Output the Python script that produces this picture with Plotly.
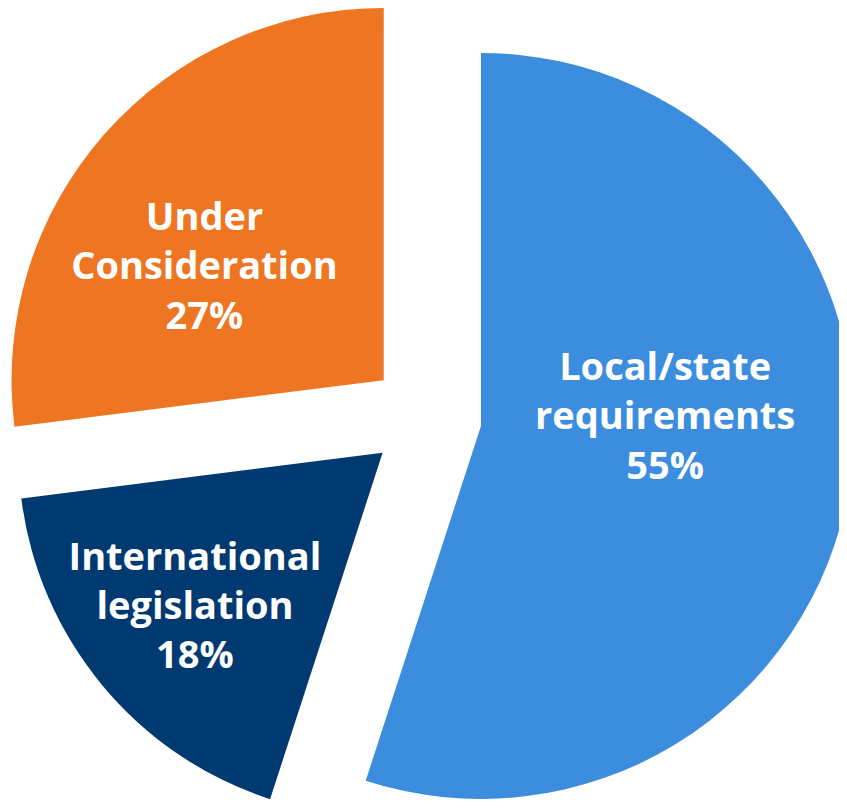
import math
import plotly.graph_objects as go

# ---- Data ----
categories = ["Local/state requirements", "International legislation", "Under Consideration"]
label_lines = [["Local/state", "requirements"], ["International", "legislation"], ["Under", "Consideration"]]
shares = [55, 18, 27]  # percent
slice_colors = ["#3C8DDE", "#003A70", "#EE7623"]

# ---- Layout / styling ----
W, H = 847, 809
pie_cx, pie_cy = 417.7, 409.2   # centre of the (un-exploded) pie, figure pixels
radius = 373                    # pie radius, pixels
pull = 0.15                     # explode distance as fraction of radius
font_size = 38
NB = "\u00a0"
# small text nudges (invisible padding) to mimic the label placement of the reference
pad_top = [None, None, font_size]          # leading blank line (font size) or None
pad_bottom = [147, None, None]             # trailing blank line (font size) or None
pad_right = [0, 1, 4]                      # non-breaking spaces after each line


def blank(size):
    return f'<span style="font-size:{size}px">{NB}</span>'


total = sum(shares)
fig = go.Figure()
cum = 0
for i, (name, lines, v, col) in enumerate(zip(categories, label_lines, shares, slice_colors)):
    mid = 2 * math.pi * (cum + v / 2) / total
    ax = pie_cx + pull * radius * math.sin(mid)
    ay = pie_cy - pull * radius * math.cos(mid)
    r = min(radius, ax, W - ax, ay, H - ay)
    x0, x1 = (ax - r) / W, (ax + r) / W
    y0, y1 = 1 - (ay + r) / H, 1 - (ay - r) / H
    x0, x1, y0, y1 = max(0, x0), min(1, x1), max(0, y0), min(1, y1)

    body = [ln + NB * pad_right[i] for ln in lines] + [f"{v}%" + NB * pad_right[i]]
    parts = ([blank(pad_top[i])] if pad_top[i] else []) + body + ([blank(pad_bottom[i])] if pad_bottom[i] else [])
    txt = "<br>".join(parts)

    fig.add_trace(
        go.Pie(
            name=name,
            labels=[name, "rest"],
            values=[v, total - v],
            sort=False,
            direction="clockwise",
            rotation=360 * cum / total,
            marker=dict(colors=[col, "rgba(0,0,0,0)"], line=dict(width=0)),
            text=[txt, ""],
            textinfo="text",
            textposition=["inside", "none"],
            insidetextorientation="horizontal",
            insidetextfont=dict(family="Open Sans", size=font_size, color="white", weight="bold"),
            domain=dict(x=[x0, x1], y=[y0, y1]),
            hoverinfo="skip",
            showlegend=False,
        )
    )
    cum += v

fig.update_layout(
    width=W,
    height=H,
    margin=dict(l=0, r=0, t=0, b=0),
    paper_bgcolor="white",
    plot_bgcolor="white",
    uniformtext=dict(minsize=font_size, mode="show"),
)

fig.write_html("out.html")
